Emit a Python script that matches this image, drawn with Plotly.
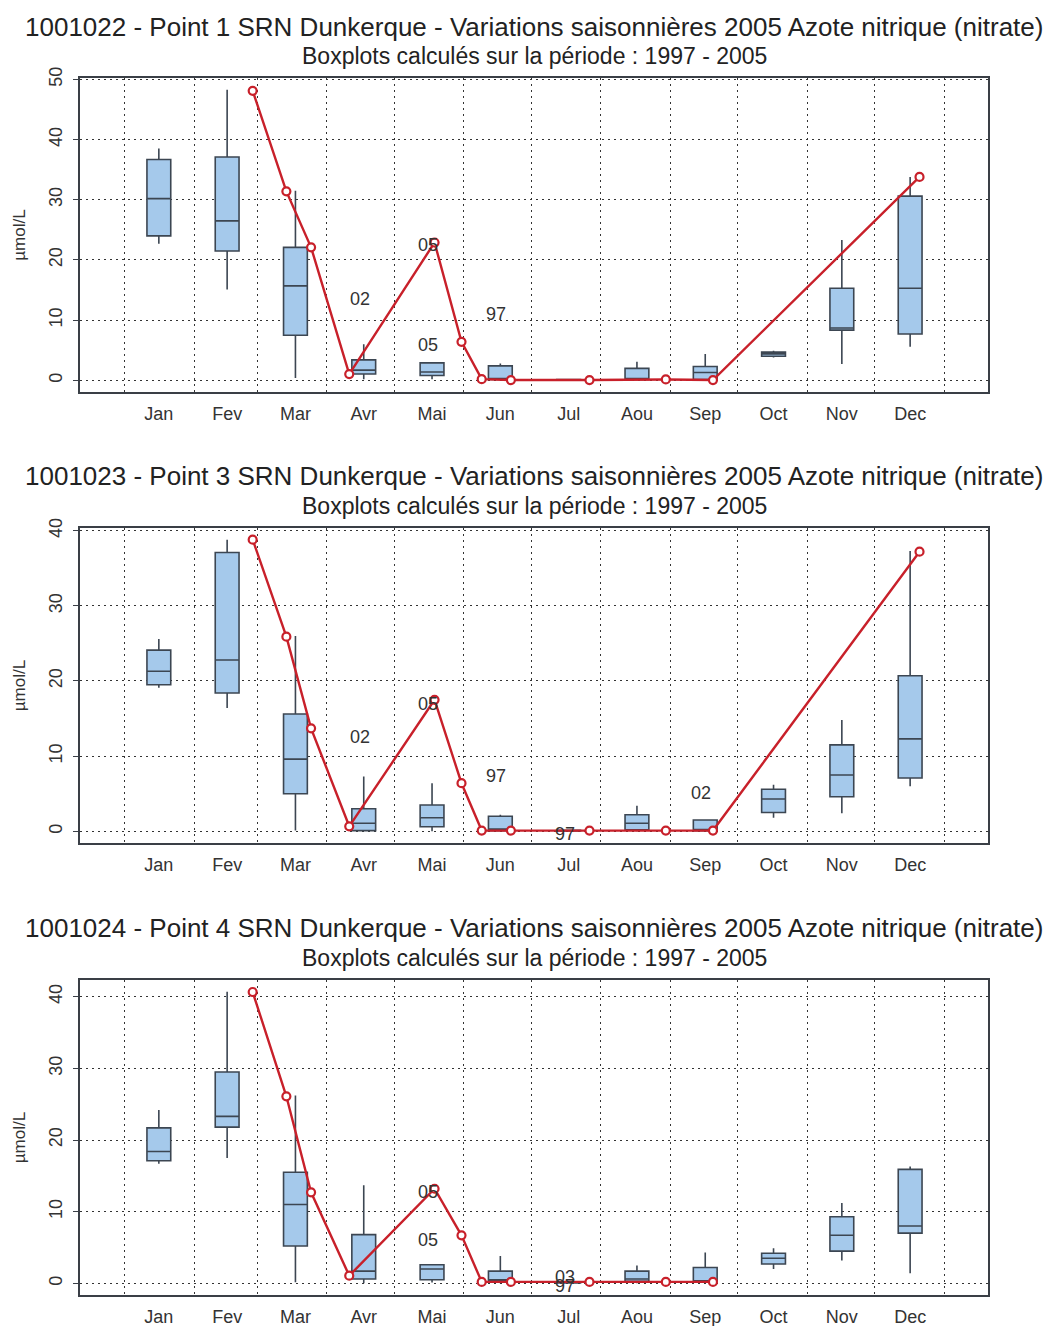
import pandas as pd
import plotly.graph_objects as go

# ---------------------------------------------------------------------------
# Data
# ---------------------------------------------------------------------------
months = ["Jan", "Fev", "Mar", "Avr", "Mai", "Jun", "Jul", "Aou", "Sep", "Oct", "Nov", "Dec"]

stations = [
    "1001022 - Point 1 SRN Dunkerque",
    "1001023 - Point 3 SRN Dunkerque",
    "1001024 - Point 4 SRN Dunkerque",
]

# Monthly boxplot statistics over 1997 - 2005 (µmol/L)
p1_low  = [22.7, 15.1, 0.4, 0.2, 0.2, 0.1, 0.0, 0.1, 0.0, 3.8, 2.7, 5.6]
p1_q1   = [24.0, 21.5, 7.5, 1.05, 0.8, 0.15, 0.05, 0.15, 0.15, 4.0, 8.35, 7.7]
p1_med  = [30.2, 26.5, 15.7, 1.7, 1.4, 0.3, 0.1, 0.2, 1.3, 4.4, 8.7, 15.3]
p1_q3   = [36.7, 37.1, 22.1, 3.4, 2.9, 2.4, 0.15, 2.0, 2.3, 4.7, 15.3, 30.6]
p1_high = [38.5, 48.3, 31.5, 6.0, 2.9, 2.8, 0.2, 3.1, 4.4, 4.9, 23.3, 33.8]

p2_low  = [19.1, 16.4, 0.1, 0.0, 0.0, 0.0, 0.0, 0.0, 0.1, 1.8, 2.4, 6.0]
p2_q1   = [19.5, 18.4, 5.0, 0.1, 0.6, 0.1, 0.05, 0.2, 0.1, 2.5, 4.6, 7.1]
p2_med  = [21.3, 22.8, 9.6, 1.07, 1.8, 0.3, 0.1, 1.07, 0.2, 4.3, 7.5, 12.3]
p2_q3   = [24.1, 37.1, 15.6, 3.0, 3.5, 2.0, 0.15, 2.2, 1.5, 5.6, 11.5, 20.7]
p2_high = [25.6, 38.8, 26.0, 7.3, 6.4, 2.2, 0.2, 3.4, 1.5, 6.2, 14.8, 37.3]

p3_low  = [16.7, 17.5, 0.15, 0.0, 0.1, 0.0, 0.0, 0.0, 0.0, 2.0, 3.2, 1.4]
p3_q1   = [17.1, 21.8, 5.2, 0.6, 0.5, 0.3, 0.05, 0.3, 0.2, 2.7, 4.5, 7.0]
p3_med  = [18.4, 23.3, 11.0, 1.7, 2.0, 0.5, 0.1, 0.6, 0.3, 3.5, 6.7, 8.0]
p3_q3   = [21.7, 29.5, 15.5, 6.8, 2.6, 1.7, 0.15, 1.7, 2.2, 4.2, 9.3, 15.9]
p3_high = [24.2, 40.7, 26.2, 13.7, 2.6, 3.8, 0.2, 2.5, 4.3, 4.9, 11.2, 16.3]

# 2005 sampling dates and measured values
dates_2005 = ["2005-02-27", "2005-03-14", "2005-03-25", "2005-04-11", "2005-05-19",
              "2005-05-31", "2005-06-09", "2005-06-22", "2005-07-27", "2005-08-30",
              "2005-09-20", "2005-12-21"]
p1_2005 = [48.1, 31.4, 22.1, 1.05, 22.9, 6.4, 0.2, 0.05, 0.05, 0.15, 0.05, 33.8]
p2_2005 = [38.8, 25.9, 13.7, 0.67, 17.5, 6.4, 0.1, 0.1, 0.1, 0.1, 0.1, 37.2]
p3_2005 = [40.65, 26.1, 12.7, 1.07, 13.2, 6.7, 0.2, 0.2, 0.2, 0.2, 0.2]

# Outlier year labels (month, value, year)
p1_lab_month = ["Avr", "Mai", "Mai", "Jun"]
p1_lab_val   = [13.5, 22.5, 5.9, 11.0]
p1_lab_txt   = ["02", "05", "05", "97"]

p2_lab_month = ["Avr", "Mai", "Jun", "Jul", "Sep"]
p2_lab_val   = [12.6, 17.0, 7.3, -0.3, 5.1]
p2_lab_txt   = ["02", "05", "97", "97", "02"]

p3_lab_month = ["Mai", "Mai", "Jul", "Jul"]
p3_lab_val   = [12.7, 6.1, 0.85, -0.4]
p3_lab_txt   = ["05", "05", "03", "97"]

# ---------------------------------------------------------------------------
# Styling / layout helpers
# ---------------------------------------------------------------------------
FONT = "Liberation Sans, Arial, Helvetica, sans-serif"
TXT = "#333333"
AX = "#3a3f46"
BOX_FILL = "#a5c9eb"
BOX_LINE = "#3c4652"
RED = "#c8202a"

W, H = 1046, 1326
M_L, M_R, M_T, M_B = 80, 58, 78, 31
PLOT_H = H - M_T - M_B


def paper_y(px):
    return (H - M_B - px) / PLOT_H


# pixel extents (top, bottom) of each panel frame
panels_px = [(78, 392), (528, 843), (980, 1295)]
titles_px = [(27, 56), (476, 506), (928, 958)]

# month centres evenly spread over the year
year0 = pd.Timestamp("2005-01-01")
box_pos = [year0 + pd.Timedelta(days=15.2 + 30.42 * k) for k in range(12)]
box_x = [t.strftime("%Y-%m-%d %H:%M:%S") for t in box_pos]
month_x = dict(zip(months, box_x))
box_width_ms = 10.6 * 86400000

x_range = ["2004-12-12 02:00", "2006-01-20 12:00"]

stats = [
    (p1_low, p1_q1, p1_med, p1_q3, p1_high, p1_2005, p1_lab_month, p1_lab_val, p1_lab_txt),
    (p2_low, p2_q1, p2_med, p2_q3, p2_high, p2_2005, p2_lab_month, p2_lab_val, p2_lab_txt),
    (p3_low, p3_q1, p3_med, p3_q3, p3_high, p3_2005, p3_lab_month, p3_lab_val, p3_lab_txt),
]

fig = go.Figure()
annotations = []
layout_axes = {}

for i, (low, q1, med, q3, high, v2005, lm, lv, lt) in enumerate(stats):
    n = i + 1
    xa = "x" if n == 1 else f"x{n}"
    ya = "y" if n == 1 else f"y{n}"

    fig.add_trace(go.Box(
        x=box_x, q1=q1, median=med, q3=q3, lowerfence=low, upperfence=high,
        width=box_width_ms, fillcolor=BOX_FILL,
        line=dict(color=BOX_LINE, width=1.6), whiskerwidth=0,
        boxpoints=False, showlegend=False, xaxis=xa, yaxis=ya,
    ))

    fig.add_trace(go.Scatter(
        x=dates_2005[:len(v2005)], y=v2005, mode="lines+markers",
        line=dict(color=RED, width=2.4),
        marker=dict(symbol="circle", size=8, color="white",
                    line=dict(color=RED, width=2.2)),
        showlegend=False, xaxis=xa, yaxis=ya,
    ))

    for m, v, t in zip(lm, lv, lt):
        annotations.append(dict(
            x=month_x[m], y=v, xref=xa, yref=ya, text=t, showarrow=False,
            xshift=-4, font=dict(family=FONT, size=18, color=TXT),
        ))

    vmax = max(max(high), max(v2005))
    top, bottom = panels_px[i]
    dom = [paper_y(bottom), paper_y(top)]

    layout_axes["xaxis" if n == 1 else f"xaxis{n}"] = dict(
        domain=[0, 1], anchor=ya, type="date", range=x_range, automargin=False,
        tickmode="array", tickvals=box_x, ticktext=months,
        showgrid=False, zeroline=False,
        ticks="outside", ticklen=5, tickcolor="rgba(0,0,0,0)",
        tickfont=dict(family=FONT, size=18, color=TXT),
        showline=True, mirror=True, linecolor=AX, linewidth=1.5,
        minor=dict(dtick="M1", tick0="2005-01-01", showgrid=True,
                   gridcolor="#333333", griddash="2px,4px", gridwidth=1.2,
                   ticks=""),
    )
    layout_axes["yaxis" if n == 1 else f"yaxis{n}"] = dict(
        domain=dom, anchor=xa, range=[-0.04 * vmax, 1.04 * vmax], automargin=False,
        tickmode="linear", tick0=0, dtick=10,
        showgrid=True, gridcolor="#333333", griddash="2px,4px", gridwidth=1.2,
        zeroline=False, ticks="outside", ticklen=5, tickcolor=AX,
        tickangle=-90, ticklabelstandoff=4,
        tickfont=dict(family=FONT, size=18, color=TXT),
        showline=True, mirror=True, linecolor=AX, linewidth=1.5,
        title=dict(text="µmol/L", standoff=16,
                   font=dict(family=FONT, size=17, color=TXT)),
    )

    t_px, s_px = titles_px[i]
    annotations.append(dict(
        x=0.5, y=paper_y(t_px), xref="paper", yref="paper", showarrow=False,
        xanchor="center", yanchor="middle",
        text=f"{stations[i]} - Variations saisonnières 2005 Azote nitrique (nitrate)",
        font=dict(family=FONT, size=26, color="#222222"),
    ))
    annotations.append(dict(
        x=0.5, y=paper_y(s_px), xref="paper", yref="paper", showarrow=False,
        xanchor="center", yanchor="middle",
        text="Boxplots calculés sur la période : 1997 - 2005",
        font=dict(family=FONT, size=23, color="#222222"),
    ))

fig.update_layout(
    width=W, height=H,
    margin=dict(l=M_L, r=M_R, t=M_T, b=M_B),
    paper_bgcolor="white", plot_bgcolor="white",
    showlegend=False,
    annotations=annotations,
    **layout_axes,
)

fig.write_html("out.html")
